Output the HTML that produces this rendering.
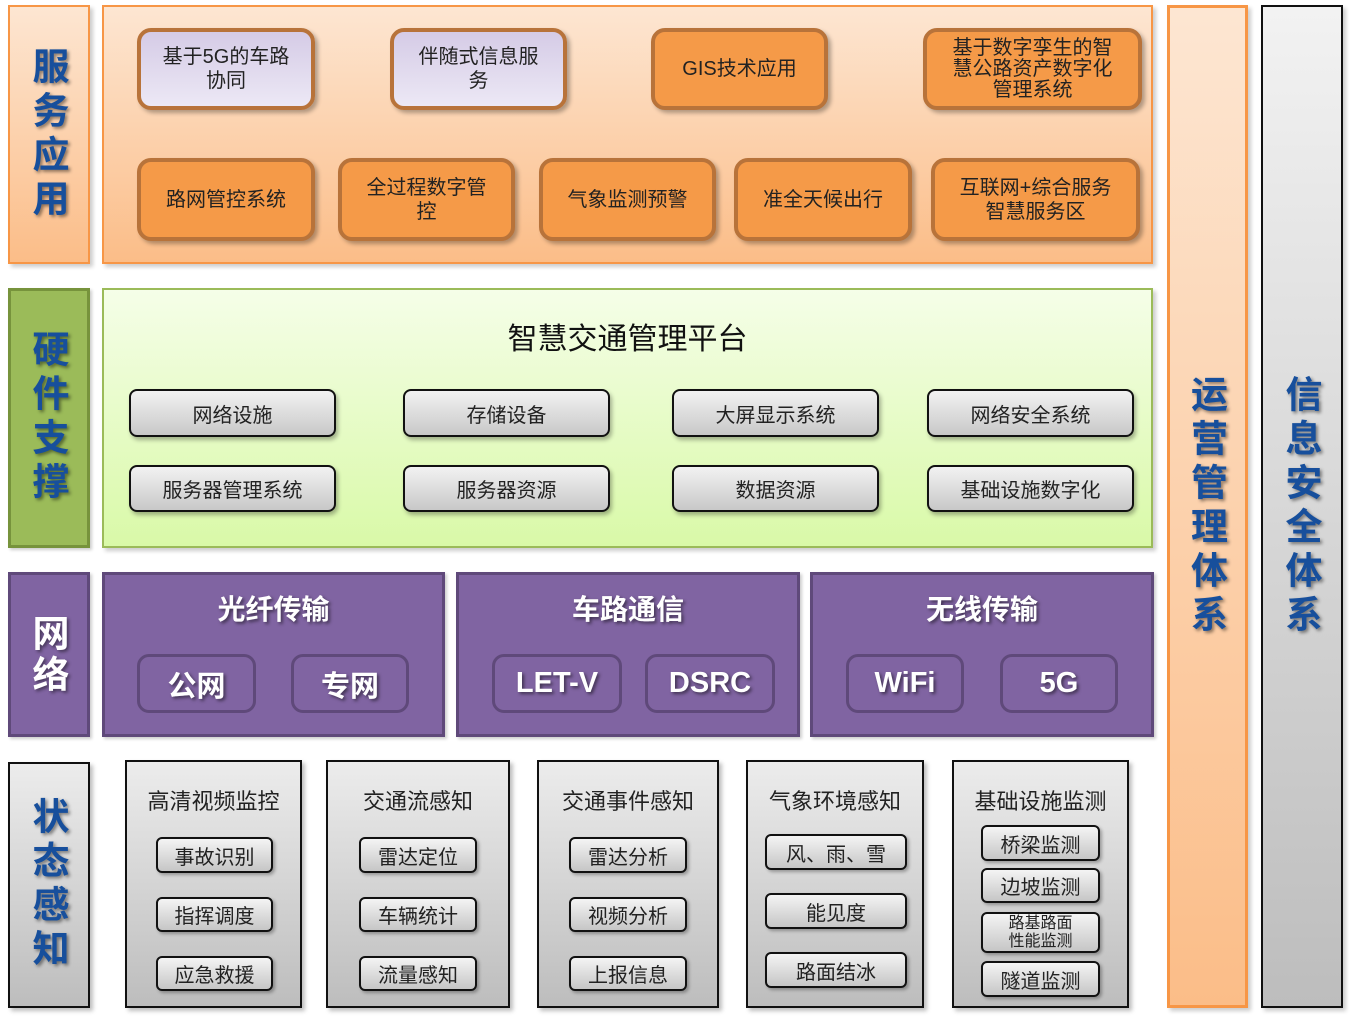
<!DOCTYPE html>
<html><head><meta charset="utf-8"><style>
*{margin:0;padding:0;box-sizing:border-box}
body{width:1352px;height:1020px;background:#fff;position:relative;overflow:hidden;font-family:"Liberation Sans","Noto Sans CJK SC",sans-serif}
div{position:absolute}
.c{display:flex;align-items:center;justify-content:center;text-align:center}
.vl{font-weight:bold;font-size:37px;line-height:44px;color:#174f9c;text-shadow:2px 2px 3px rgba(0,0,0,.45);writing-mode:vertical-rl;letter-spacing:7px;margin-left:-4px}
.org{background:linear-gradient(#fde6d2,#fbbd88);border:2px solid #f79646;box-shadow:3px 3px 4px rgba(0,0,0,.2)}
.lav{background:linear-gradient(#d5cbe6,#ece8f5);border:4px solid #b8733a;border-radius:14px;box-shadow:3px 3px 4px rgba(0,0,0,.3);font-size:20px;line-height:24px;color:#222}
.ob{background:#f59a48;border:4px solid #b8733a;border-radius:14px;box-shadow:3px 3px 4px rgba(0,0,0,.3);font-size:20px;line-height:24px;color:#222}
.gb{background:linear-gradient(#f2f2f2,#c8c8c8);border:2px solid #111;border-radius:8px;box-shadow:2px 3px 4px rgba(0,0,0,.3);font-size:20px;color:#222}
.pp{background:#8064a2;border:3px solid #5f497a;box-shadow:2px 2px 3px rgba(0,0,0,.2)}
.pt{color:#fff;font-weight:bold;font-size:28px;text-shadow:2px 2px 3px rgba(0,0,0,.5)}
.pb{border:3px solid #5f497a;border-radius:12px;color:#fff;font-weight:bold;font-size:29px;text-shadow:2px 2px 3px rgba(0,0,0,.5)}
.gc{background:linear-gradient(#ececec,#bdbdbd);border:2px solid #111;box-shadow:3px 3px 4px rgba(0,0,0,.25)}
.ct{font-size:22px;color:#222;left:0;right:0;text-align:center}
.sb{background:linear-gradient(#f4f4f4,#c6c6c6);border:2px solid #111;border-radius:6px;box-shadow:2px 2px 3px rgba(0,0,0,.3);font-size:20px;color:#222}
</style></head><body>
<!-- service -->
<div class="org c" style="left:8px;top:5px;width:82px;height:259px"><span class="vl">服务应用</span></div>
<div class="org" style="left:102px;top:5px;width:1051px;height:259px"></div>
<div class="lav c" style="left:137px;top:28px;width:178px;height:82px">基于5G的车路<br>协同</div>
<div class="lav c" style="left:390px;top:28px;width:177px;height:82px">伴随式信息服<br>务</div>
<div class="ob c" style="left:651px;top:28px;width:177px;height:82px">GIS技术应用</div>
<div class="ob c" style="left:923px;top:28px;width:219px;height:82px;line-height:21px">基于数字孪生的智<br>慧公路资产数字化<br>管理系统</div>
<div class="ob c" style="left:137px;top:158px;width:178px;height:83px">路网管控系统</div>
<div class="ob c" style="left:338px;top:158px;width:177px;height:83px">全过程数字管<br>控</div>
<div class="ob c" style="left:539px;top:158px;width:177px;height:83px">气象监测预警</div>
<div class="ob c" style="left:734px;top:158px;width:178px;height:83px">准全天候出行</div>
<div class="ob c" style="left:931px;top:158px;width:209px;height:83px">互联网+综合服务<br>智慧服务区</div>
<!-- hardware -->
<div class="c" style="left:8px;top:288px;width:82px;height:260px;background:#9bbb59;border:3px solid #77933c;box-shadow:2px 2px 3px rgba(0,0,0,.2)"><span class="vl">硬件支撑</span></div>
<div style="left:102px;top:288px;width:1051px;height:260px;background:linear-gradient(#f5fee8,#d9f9a8);border:2px solid #9bbb59;box-shadow:3px 3px 4px rgba(0,0,0,.2)"></div>
<div style="left:102px;top:314px;width:1051px;text-align:center;font-size:30px;color:#111">智慧交通管理平台</div>
<div class="gb c" style="left:129px;top:389px;width:207px;height:48px">网络设施</div>
<div class="gb c" style="left:403px;top:389px;width:207px;height:48px">存储设备</div>
<div class="gb c" style="left:672px;top:389px;width:207px;height:48px">大屏显示系统</div>
<div class="gb c" style="left:927px;top:389px;width:207px;height:48px">网络安全系统</div>
<div class="gb c" style="left:129px;top:465px;width:207px;height:47px">服务器管理系统</div>
<div class="gb c" style="left:403px;top:465px;width:207px;height:47px">服务器资源</div>
<div class="gb c" style="left:672px;top:465px;width:207px;height:47px">数据资源</div>
<div class="gb c" style="left:927px;top:465px;width:207px;height:47px">基础设施数字化</div>
<!-- network -->
<div class="pp c" style="left:8px;top:572px;width:82px;height:165px"><span class="vl" style="color:#fff;letter-spacing:4px">网络</span></div>
<div class="pp" style="left:102px;top:572px;width:343px;height:165px"></div>
<div class="pp" style="left:456px;top:572px;width:344px;height:165px"></div>
<div class="pp" style="left:810px;top:572px;width:344px;height:165px"></div>
<div class="pt" style="left:102px;top:588px;width:343px;text-align:center">光纤传输</div>
<div class="pt" style="left:456px;top:588px;width:344px;text-align:center">车路通信</div>
<div class="pt" style="left:810px;top:588px;width:344px;text-align:center">无线传输</div>
<div class="pb c" style="left:137px;top:654px;width:119px;height:59px">公网</div>
<div class="pb c" style="left:291px;top:654px;width:118px;height:59px">专网</div>
<div class="pb c" style="left:492px;top:654px;width:130px;height:59px">LET-V</div>
<div class="pb c" style="left:645px;top:654px;width:130px;height:59px">DSRC</div>
<div class="pb c" style="left:846px;top:654px;width:118px;height:59px">WiFi</div>
<div class="pb c" style="left:1000px;top:654px;width:118px;height:59px">5G</div>
<!-- perception -->
<div class="gc c" style="left:8px;top:762px;width:82px;height:246px"><span class="vl">状态感知</span></div>
<div class="gc" style="left:125px;top:760px;width:177px;height:248px"><div class="ct" style="top:22px">高清视频监控</div></div>
<div class="gc" style="left:326px;top:760px;width:184px;height:248px"><div class="ct" style="top:22px">交通流感知</div></div>
<div class="gc" style="left:537px;top:760px;width:182px;height:248px"><div class="ct" style="top:22px">交通事件感知</div></div>
<div class="gc" style="left:746px;top:760px;width:178px;height:248px"><div class="ct" style="top:22px">气象环境感知</div></div>
<div class="gc" style="left:952px;top:760px;width:177px;height:248px"><div class="ct" style="top:22px">基础设施监测</div></div>
<div class="sb c" style="left:156px;top:837px;width:117px;height:36px">事故识别</div>
<div class="sb c" style="left:156px;top:897px;width:117px;height:35px">指挥调度</div>
<div class="sb c" style="left:156px;top:956px;width:117px;height:35px">应急救援</div>
<div class="sb c" style="left:359px;top:837px;width:118px;height:36px">雷达定位</div>
<div class="sb c" style="left:359px;top:897px;width:118px;height:35px">车辆统计</div>
<div class="sb c" style="left:359px;top:956px;width:118px;height:35px">流量感知</div>
<div class="sb c" style="left:569px;top:837px;width:118px;height:36px">雷达分析</div>
<div class="sb c" style="left:569px;top:897px;width:118px;height:35px">视频分析</div>
<div class="sb c" style="left:569px;top:956px;width:118px;height:35px">上报信息</div>
<div class="sb c" style="left:765px;top:834px;width:142px;height:36px">风、雨、雪</div>
<div class="sb c" style="left:765px;top:893px;width:142px;height:36px">能见度</div>
<div class="sb c" style="left:765px;top:952px;width:142px;height:36px">路面结冰</div>
<div class="sb c" style="left:981px;top:825px;width:119px;height:36px">桥梁监测</div>
<div class="sb c" style="left:981px;top:868px;width:119px;height:35px">边坡监测</div>
<div class="sb c" style="left:981px;top:912px;width:119px;height:41px;font-size:16px;line-height:18px">路基路面<br>性能监测</div>
<div class="sb c" style="left:981px;top:961px;width:119px;height:36px">隧道监测</div>
<!-- right columns -->
<div class="c" style="left:1167px;top:5px;width:81px;height:1003px;background:linear-gradient(#fde6d2,#fbbd88);border:3px solid #f79646;box-shadow:3px 3px 4px rgba(0,0,0,.2)"><span class="vl">运营管理体系</span></div>
<div class="c" style="left:1261px;top:5px;width:82px;height:1003px;background:linear-gradient(#f2f2f2,#bdbdbd);border:2px solid #111;box-shadow:3px 3px 4px rgba(0,0,0,.2)"><span class="vl">信息安全体系</span></div>
</body></html>
